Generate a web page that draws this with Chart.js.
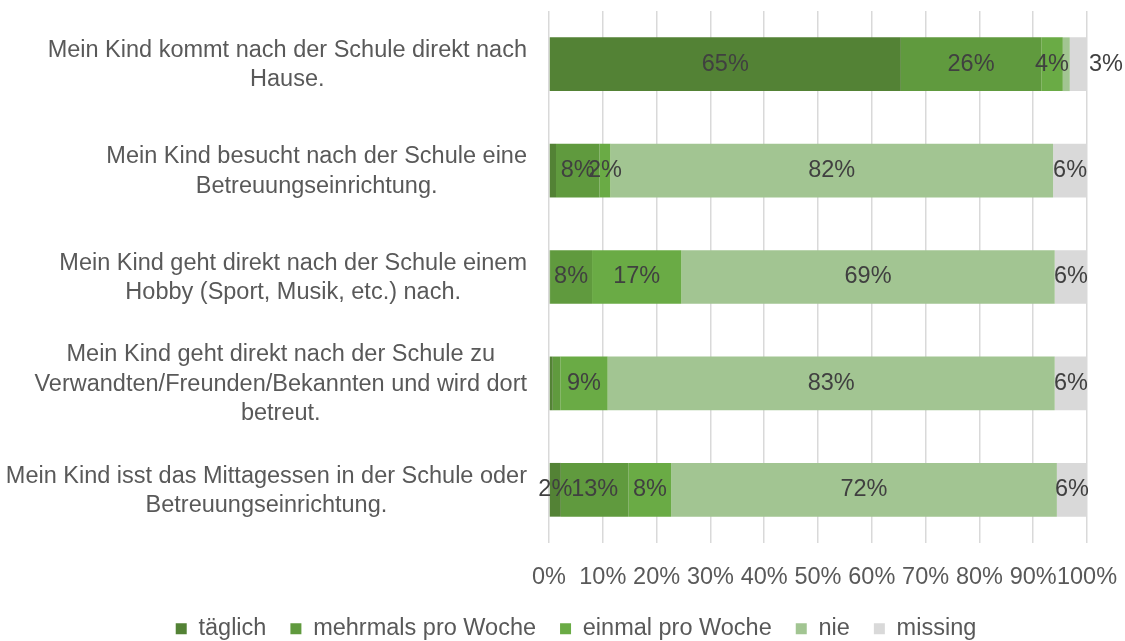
<!DOCTYPE html>
<html>
<head>
<meta charset="utf-8">
<script src="https://cdn.jsdelivr.net/npm/chart.js@4.4.0/dist/chart.umd.min.js"></script>
<style>
  html, body { margin: 0; padding: 0; background: #fff; }
  #wrap { width: 1125px; height: 641px; }
</style>
</head>
<body>
<div id="wrap"><canvas id="chart" width="1125" height="641"></canvas></div>
<script>
const categories = [
    ['Mein Kind kommt nach der Schule direkt nach', 'Hause.'],
    ['Mein Kind besucht nach der Schule eine', 'Betreuungseinrichtung.'],
    ['Mein Kind geht direkt nach der Schule einem', 'Hobby (Sport, Musik, etc.) nach.'],
    ['Mein Kind geht direkt nach der Schule zu', 'Verwandten/Freunden/Bekannten und wird dort', 'betreut.'],
    ['Mein Kind isst das Mittagessen in der Schule oder', 'Betreuungseinrichtung.']
];
const seriesNames = ['täglich', 'mehrmals pro Woche', 'einmal pro Woche', 'nie', 'missing'];
const taeglich = [65.4, 1.3, 0.2, 0.7, 2.2];
const mehrmals = [26.1, 8.1, 7.8, 1.4, 12.6];
const einmal = [4.0, 2.0, 16.6, 8.8, 7.9];
const nie = [1.3, 82.3, 69.4, 83.1, 71.7];
const missing = [3.2, 6.3, 6.0, 6.0, 5.6];
const seriesColors = ['#538235', '#609A3E', '#6AAB45', '#A2C592', '#D9D9D9'];
const xTicks = [0, 10, 20, 30, 40, 50, 60, 70, 80, 90, 100];

const FONT = '"Liberation Sans", Arial, sans-serif';
const FONT_SIZE = 23.5;
const TEXT_GRAY = '#595959';
const LABEL_DARK = '#404040';
const PAD_LEFT = 65;

Chart.defaults.font.family = FONT;
Chart.defaults.font.size = FONT_SIZE;
Chart.defaults.color = TEXT_GRAY;

// category labels: right-aligned block, lines centered inside it
const categoryLabels = {
    id: 'categoryLabels',
    afterDraw(chart) {
        const ctx = chart.ctx;
        const y = chart.scales.y;
        const right = 527;
        const lineH = 29.5;
        ctx.save();
        ctx.font = FONT_SIZE + 'px ' + FONT;
        ctx.fillStyle = TEXT_GRAY;
        ctx.textAlign = 'center';
        ctx.textBaseline = 'middle';
        categories.forEach((lines, i) => {
            const maxW = Math.max(...lines.map(l => ctx.measureText(l).width));
            const cx = right - maxW / 2;
            const cy = y.getPixelForValue(i) + 1;
            const top = cy - (lines.length - 1) * lineH / 2;
            lines.forEach((l, j) => ctx.fillText(l, cx, top + j * lineH));
        });
        ctx.restore();
    }
};

// percentage labels in the segments
const segmentLabels = {
    id: 'segmentLabels',
    afterDatasetsDraw(chart) {
        const ctx = chart.ctx;
        ctx.save();
        ctx.font = FONT_SIZE + 'px ' + FONT;
        ctx.fillStyle = LABEL_DARK;
        ctx.textBaseline = 'middle';
        chart.data.datasets.forEach((ds, di) => {
            const meta = chart.getDatasetMeta(di);
            meta.data.forEach((bar, i) => {
                const v = Math.round(ds.data[i]);
                if (v < 2) return;
                const text = v + '%';
                const w = ctx.measureText(text).width;
                const segW = Math.abs(bar.x - bar.base);
                if (di === chart.data.datasets.length - 1 && segW < w * 0.7) {
                    ctx.textAlign = 'left';
                    ctx.fillText(text, bar.x + 2, bar.y);
                } else {
                    ctx.textAlign = 'center';
                    ctx.fillText(text, (bar.x + bar.base) / 2, bar.y);
                }
            });
        });
        ctx.restore();
    }
};

const seriesData = [taeglich, mehrmals, einmal, nie, missing];

new Chart(document.getElementById('chart').getContext('2d'), {
    type: 'bar',
    data: {
        labels: categories.map(c => c.join(' ')),
        datasets: seriesNames.map((name, i) => ({
            label: name,
            data: seriesData[i],
            backgroundColor: seriesColors[i],
            borderWidth: 0,
            barPercentage: 0.505,
            categoryPercentage: 1.0
        }))
    },
    options: {
        indexAxis: 'y',
        responsive: false,
        animation: false,
        layout: { padding: { left: PAD_LEFT, right: 38, top: 11, bottom: 0 } },
        plugins: {
            legend: {
                position: 'bottom',
                maxHeight: 48,
                labels: {
                    boxWidth: 11,
                    boxHeight: 11,
                    padding: 24,
                    color: TEXT_GRAY,
                    font: { size: FONT_SIZE }
                }
            },
            tooltip: { enabled: false }
        },
        scales: {
            x: {
                stacked: true,
                min: 0,
                max: 100,
                afterBuildTicks: s => { s.ticks = xTicks.map(v => ({ value: v })); },
                afterFit: s => {
                    s.height = 50;
                    s.paddingLeft = 0;
                    s.paddingRight = 0;
                },
                ticks: {
                    autoSkip: false,
                    maxRotation: 0,
                    padding: 20,
                    color: TEXT_GRAY,
                    callback: v => v + '%'
                },
                grid: { color: '#D9D9D9', lineWidth: 1.5, drawTicks: false },
                border: { display: false }
            },
            y: {
                stacked: true,
                ticks: { display: false },
                grid: { display: false },
                border: { display: false },
                afterFit: s => { s.width = 549 - PAD_LEFT; }
            }
        }
    },
    plugins: [categoryLabels, segmentLabels]
});
</script>
</body>
</html>
